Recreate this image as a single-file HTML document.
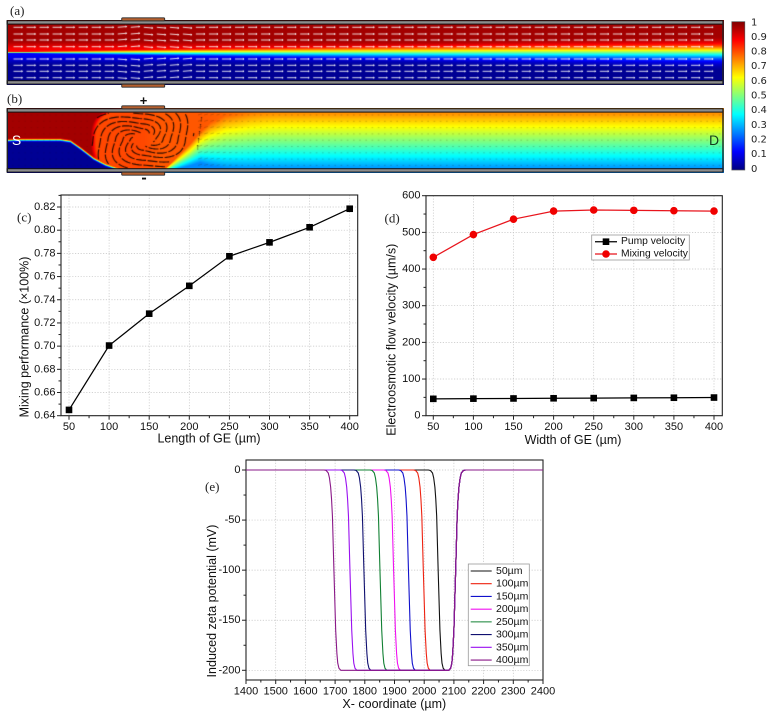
<!DOCTYPE html>
<html lang="en">
<head>
<meta charset="utf-8">
<title>Electrokinetic mixing figure</title>
<style>
html,body{margin:0;padding:0;background:#fff;}
#figure{position:relative;width:773px;height:715px;overflow:hidden;background:#fff;filter:blur(0.25px);font-family:"Liberation Sans",Arial,sans-serif;}
canvas{position:absolute;display:block;}
svg{position:absolute;left:0;top:0;}
text{font-family:"Liberation Sans",Arial,sans-serif;fill:#111;}
.panel-label{font-family:"Liberation Serif","Times New Roman",serif;font-size:13px;fill:#222;}
.cb{font-family:"DejaVu Sans",sans-serif;font-size:10px;fill:#222;}
</style>
</head>
<body>
<div id="figure">
<canvas id="fieldA" width="717" height="65" style="left:7px;top:20px"></canvas>
<canvas id="fieldB" width="717" height="65" style="left:7px;top:108px"></canvas>
<svg id="chartSvg" width="773" height="715" viewBox="0 0 773 715" xmlns="http://www.w3.org/2000/svg">
<defs>
<linearGradient id="jetGrad" x1="0" y1="1" x2="0" y2="0">
<stop offset="0" stop-color="#000080"/><stop offset="0.125" stop-color="#0000ff"/><stop offset="0.375" stop-color="#00ffff"/><stop offset="0.625" stop-color="#ffff00"/><stop offset="0.875" stop-color="#ff0000"/><stop offset="1" stop-color="#800000"/>
</linearGradient>
</defs>
<g>
<rect x="7" y="20.7" width="716" height="3.4" fill="#8c8c8c" stroke="#111" stroke-width="1"/>
<rect x="7" y="80.7" width="716" height="3.4" fill="#8c8c8c" stroke="#111" stroke-width="1"/>
<line x1="7.3" y1="21" x2="7.3" y2="84" stroke="#222" stroke-width="1.4"/>
<line x1="723" y1="21" x2="723" y2="84" stroke="#222" stroke-width="1.4"/>
<rect x="121.7" y="17.8" width="43" height="3" rx="1" fill="#b5602f" stroke="#2a2a2a" stroke-width="0.9"/>
<rect x="121.7" y="84.2" width="43" height="3" rx="1" fill="#b5602f" stroke="#2a2a2a" stroke-width="0.9"/>
</g>
<g>
<rect x="7" y="108.7" width="716" height="3.4" fill="#8c8c8c" stroke="#111" stroke-width="1"/>
<rect x="7" y="168.7" width="716" height="3.4" fill="#8c8c8c" stroke="#111" stroke-width="1"/>
<line x1="7.3" y1="109" x2="7.3" y2="172" stroke="#222" stroke-width="1.4"/>
<line x1="723" y1="109" x2="723" y2="172" stroke="#222" stroke-width="1.4"/>
<rect x="121.7" y="105.8" width="43" height="3" rx="1" fill="#b5602f" stroke="#2a2a2a" stroke-width="0.9"/>
<rect x="121.7" y="172.2" width="43" height="3" rx="1" fill="#b5602f" stroke="#2a2a2a" stroke-width="0.9"/>
<text x="143.5" y="100.5" text-anchor="middle" dominant-baseline="central" font-size="13" font-weight="bold">+</text>
<text x="144" y="178" text-anchor="middle" dominant-baseline="central" font-size="16" font-weight="bold">-</text>
<text x="16.5" y="140" text-anchor="middle" dominant-baseline="central" font-size="14" style="fill:#fff">S</text>
<text x="714" y="140" text-anchor="middle" dominant-baseline="central" font-size="14" style="fill:#143c1e">D</text>
</g>
<text class="panel-label" x="10" y="15">(a)</text>
<text class="panel-label" x="7" y="103">(b)</text>
<text class="panel-label" x="17" y="221.5">(c)</text>
<text class="panel-label" x="384.5" y="222.5">(d)</text>
<text class="panel-label" x="205" y="491">(e)</text>
<g>
<rect x="731.8" y="21.7" width="13" height="148.3" fill="url(#jetGrad)" stroke="#555" stroke-width="0.7"/>
<text class="cb" x="751" y="23" dominant-baseline="central">1</text>
<text class="cb" x="751" y="37.3" dominant-baseline="central">0.9</text>
<text class="cb" x="751" y="52" dominant-baseline="central">0.8</text>
<text class="cb" x="751" y="66.7" dominant-baseline="central">0.7</text>
<text class="cb" x="751" y="81.3" dominant-baseline="central">0.6</text>
<text class="cb" x="751" y="96" dominant-baseline="central">0.5</text>
<text class="cb" x="751" y="110.7" dominant-baseline="central">0.4</text>
<text class="cb" x="751" y="125.3" dominant-baseline="central">0.3</text>
<text class="cb" x="751" y="140" dominant-baseline="central">0.2</text>
<text class="cb" x="751" y="154.7" dominant-baseline="central">0.1</text>
<text class="cb" x="751" y="169.3" dominant-baseline="central">0</text>
</g>
</svg>
</div>
<script>
// ---- Chart (c) data ----
const lengthCategories = [50, 100, 150, 200, 250, 300, 350, 400];
const mixingPerformance = [0.645, 0.7005, 0.728, 0.752, 0.7775, 0.7895, 0.8025, 0.8185];
const cXTickLabels = ['50', '100', '150', '200', '250', '300', '350', '400'];
const cYTickLabels = ['0.64', '0.66', '0.68', '0.70', '0.72', '0.74', '0.76', '0.78', '0.80', '0.82'];

// ---- Chart (d) data ----
const widthCategories = [50, 100, 150, 200, 250, 300, 350, 400];
const pumpVelocity = [46, 46.5, 47, 47.5, 48, 48.5, 49, 49.5];
const mixingVelocity = [432, 494, 536, 558, 561, 560, 559, 558];
const dXTickLabels = ['50', '100', '150', '200', '250', '300', '350', '400'];
const dYTickLabels = ['0', '100', '200', '300', '400', '500', '600'];

// ---- Chart (e) data ----
const zetaSeriesNames = ['50µm', '100µm', '150µm', '200µm', '250µm', '300µm', '350µm', '400µm'];
const zetaFallValues = [0, -0.5, -3, -8, -17, -29, -46, -100, -160, -183, -193, -198, -200];
const zetaFall50 = [2014, 2021, 2028, 2032, 2036, 2039, 2042, 2047, 2053, 2057, 2060, 2064, 2070];
const zetaFall100 = [1964, 1971, 1978, 1982, 1986, 1989, 1992, 1997, 2003, 2007, 2010, 2014, 2020];
const zetaFall150 = [1914, 1921, 1928, 1932, 1936, 1939, 1942, 1947, 1953, 1957, 1960, 1964, 1970];
const zetaFall200 = [1864, 1871, 1878, 1882, 1886, 1889, 1892, 1897, 1903, 1907, 1910, 1914, 1920];
const zetaFall250 = [1818, 1825, 1832, 1836, 1840, 1843, 1846, 1851, 1857, 1861, 1864, 1868, 1874];
const zetaFall300 = [1764, 1771, 1778, 1782, 1786, 1789, 1792, 1797, 1803, 1807, 1810, 1814, 1820];
const zetaFall350 = [1717, 1724, 1731, 1735, 1739, 1742, 1745, 1750, 1756, 1760, 1763, 1767, 1773];
const zetaFall400 = [1663, 1670, 1677, 1681, 1685, 1688, 1691, 1696, 1702, 1706, 1709, 1713, 1719];
const zetaRiseX = [2083, 2089, 2093, 2096, 2100, 2106, 2111, 2114, 2117, 2121, 2125, 2132, 2139];
const zetaRiseValues = [-200, -198, -193, -183, -160, -100, -46, -29, -17, -8, -3, -0.5, 0];
const eXTickLabels = ['1400', '1500', '1600', '1700', '1800', '1900', '2000', '2100', '2200', '2300', '2400'];
const eYTickLabels = ['0', '-50', '-100', '-150', '-200'];

const NS = 'http://www.w3.org/2000/svg';
const svg = document.getElementById('chartSvg');

function make(tag, attrs, parent) {
  const n = document.createElementNS(NS, tag);
  for (const k in attrs) n.setAttribute(k, attrs[k]);
  (parent || svg).appendChild(n);
  return n;
}
function linearScale(d0, d1, r0, r1) {
  return function (v) { return r0 + (v - d0) * (r1 - r0) / (d1 - d0); };
}

function drawAxes(g, box, sx, sy, xTicks, yTicks, xMinorStep, yMinorStep, yRange, xRange) {
  const xs = xTicks.map(Number), ys = yTicks.map(Number);
  xs.forEach(function (v) {
    const grid = make('line', { x1: sx(v), x2: sx(v), y1: box.top, y2: box.bottom, stroke: '#c4c4c4', 'stroke-width': 0.7, 'stroke-dasharray': '1.2 1.6' }, g);
    
    
  });
  ys.forEach(function (v) {
    const grid = make('line', { x1: box.left, x2: box.right, y1: sy(v), y2: sy(v), stroke: '#c4c4c4', 'stroke-width': 0.7, 'stroke-dasharray': '1.2 1.6' }, g);
    
    
  });
  const frame = make('rect', { x: box.left, y: box.top, width: box.right - box.left, height: box.bottom - box.top, fill: 'none', stroke: '#222', 'stroke-width': 1.1 }, g);
  
  
  for (let v = xRange[0]; v <= xRange[1] + 1e-9; v += xMinorStep) {
    const px = sx(v);
    if (px < box.left || px > box.right) continue;
    const isMajor = xs.some(function (t) { return Math.abs(t - v) < 1e-6; });
    const tick = make('line', { x1: px, x2: px, y1: box.bottom, y2: box.bottom + (isMajor ? 4 : 2.5), stroke: '#222', 'stroke-width': 1 }, g);
    
    
  }
  for (let v = yRange[0]; v <= yRange[1] + 1e-9; v += yMinorStep) {
    const py = sy(v);
    if (py < box.top - 0.5 || py > box.bottom + 0.5) continue;
    const isMajor = ys.some(function (t) { return Math.abs(t - v) < 1e-6; });
    const tick = make('line', { x1: box.left, x2: box.left - (isMajor ? 4 : 2.5), y1: py, y2: py, stroke: '#222', 'stroke-width': 1 }, g);
    
    
  }
  xTicks.forEach(function (t) {
    const label = make('text', { x: sx(Number(t)), y: box.bottom + 11.5, 'text-anchor': 'middle', 'dominant-baseline': 'central', 'font-size': 11 }, g);
    label.textContent = t;
    
    
  });
  yTicks.forEach(function (t) {
    const label = make('text', { x: box.left - 5.5, y: sy(Number(t)), 'text-anchor': 'end', 'dominant-baseline': 'central', 'font-size': 11 }, g);
    label.textContent = t;
    
    
  });
}
function drawTitles(g, xTitle, xx, xy, yTitle, yx, yy) {
  const xt = make('text', { x: xx, y: xy, 'text-anchor': 'middle', 'dominant-baseline': 'central', 'font-size': 12.5 }, g);
  xt.textContent = xTitle;
  
  
  const yt = make('text', { x: yx, y: yy, 'text-anchor': 'middle', 'dominant-baseline': 'central', 'font-size': 12.5, transform: 'rotate(-90 ' + yx + ' ' + yy + ')' }, g);
  yt.textContent = yTitle;
  
  
}
function pointsAttr(xv, yv, sx, sy) {
  return xv.map(function (v, i) { return sx(v).toFixed(2) + ',' + sy(yv[i]).toFixed(2); }).join(' ');
}

// ---------- Chart (c) ----------
(function () {
  const g = make('g', {});
  
  
  const box = { left: 61, right: 357.7, top: 195, bottom: 415.7 };
  const sx = linearScale(50, 400, 69, 349.7);
  const sy = linearScale(0.64, 0.82, 415.7, 207);
  drawAxes(g, box, sx, sy, cXTickLabels, cYTickLabels, 25, 0.01, [0.64, 0.83], [50, 400]);
  drawTitles(g, 'Length of GE (µm)', 209, 438.7, 'Mixing performance (×100%)', 24.5, 337);
  const line = make('polyline', { points: pointsAttr(lengthCategories, mixingPerformance, sx, sy), fill: 'none', stroke: '#000', 'stroke-width': 1.25 }, g);
  
  
  lengthCategories.forEach(function (c, i) {
    const m = make('rect', { x: sx(c) - 3.3, y: sy(mixingPerformance[i]) - 3.3, width: 6.6, height: 6.6, fill: '#000' }, g);
    
    
  });
})();

// ---------- Chart (d) ----------
(function () {
  const g = make('g', {});
  
  
  const box = { left: 426, right: 722.3, top: 195.7, bottom: 415.7 };
  const sx = linearScale(50, 400, 433.3, 714);
  const sy = linearScale(0, 600, 415.7, 195.7);
  drawAxes(g, box, sx, sy, dXTickLabels, dYTickLabels, 25, 50, [0, 600], [50, 400]);
  drawTitles(g, 'Width of GE (µm)', 573, 440, 'Electroosmotic flow velocity (µm/s)', 391.7, 339.7);
  const pump = make('polyline', { points: pointsAttr(widthCategories, pumpVelocity, sx, sy), fill: 'none', stroke: '#000', 'stroke-width': 1.25 }, g);
  
  
  const mix = make('polyline', { points: pointsAttr(widthCategories, mixingVelocity, sx, sy), fill: 'none', stroke: '#e8141c', 'stroke-width': 1.25 }, g);
  
  
  widthCategories.forEach(function (c, i) {
    const m = make('rect', { x: sx(c) - 3.3, y: sy(pumpVelocity[i]) - 3.3, width: 6.6, height: 6.6, fill: '#000' }, g);
    
    
    const k = make('circle', { cx: sx(c), cy: sy(mixingVelocity[i]), r: 3.8, fill: '#f00000' }, g);
    
    
  });
  const legend = make('g', {}, g);
  
  
  const lb = make('rect', { x: 591.7, y: 235, width: 97.6, height: 25, fill: '#fff', stroke: '#999', 'stroke-width': 0.8 }, legend);
  
  
  const l1 = make('line', { x1: 595, x2: 617, y1: 241.7, y2: 241.7, stroke: '#000', 'stroke-width': 1.25 }, legend);
  
  
  const m1 = make('rect', { x: 602.7, y: 238.4, width: 6.6, height: 6.6, fill: '#000' }, legend);
  
  
  const t1 = make('text', { x: 621, y: 241.7, 'dominant-baseline': 'central', 'font-size': 10.3 }, legend);
  t1.textContent = 'Pump velocity';
  
  
  const l2 = make('line', { x1: 595, x2: 617, y1: 254, y2: 254, stroke: '#e8141c', 'stroke-width': 1.25 }, legend);
  
  
  const m2 = make('circle', { cx: 606, cy: 254, r: 3.8, fill: '#f00000' }, legend);
  
  
  const t2 = make('text', { x: 621, y: 254, 'dominant-baseline': 'central', 'font-size': 10.3 }, legend);
  t2.textContent = 'Mixing velocity';
  
  
})();

// ---------- Chart (e) ----------
(function () {
  const g = make('g', {});
  
  
  const box = { left: 246, right: 543, top: 460, bottom: 680 };
  const sx = linearScale(1400, 2400, 246, 543);
  const sy = linearScale(0, -200, 470, 670.3);
  drawAxes(g, box, sx, sy, eXTickLabels, eYTickLabels, 50, 25, [-200, 0], [1400, 2400]);
  drawTitles(g, 'X- coordinate (µm)', 394.3, 704, 'Induced zeta potential (mV)', 212, 601);
  const colors = ['#111111', '#ee2211', '#1111cc', '#f010f0', '#118033', '#101070', '#9a10f0', '#8a1888'];
  const falls = [zetaFall50, zetaFall100, zetaFall150, zetaFall200, zetaFall250, zetaFall300, zetaFall350, zetaFall400];
  falls.forEach(function (fall, i) {
    const xv = [1400].concat(fall, zetaRiseX, [2400]);
    const yv = [0].concat(zetaFallValues, zetaRiseValues, [0]);
    const curve = make('polyline', { points: pointsAttr(xv, yv, sx, sy), fill: 'none', stroke: colors[i], 'stroke-width': 1.1, 'stroke-linejoin': 'round' }, g);
    
    
  });
  const legend = make('g', {}, g);
  
  
  const lb = make('rect', { x: 468.3, y: 564, width: 61, height: 101.7, fill: '#fff', stroke: '#999', 'stroke-width': 0.8 }, legend);
  
  
  zetaSeriesNames.forEach(function (name, i) {
    const y = 571 + i * 12.72;
    const sw = make('line', { x1: 470.7, x2: 491.7, y1: y, y2: y, stroke: colors[i], 'stroke-width': 1.1 }, legend);
    
    
    const t = make('text', { x: 496, y: y, 'dominant-baseline': 'central', 'font-size': 10.5 }, legend);
    t.textContent = name;
    
    
  });
})();

// ---------- Channel concentration fields ----------
function clamp01(v) { return v < 0 ? 0 : v > 1 ? 1 : v; }
function jet(v) {
  return [
    255 * clamp01(Math.min(4 * v - 1.5, -4 * v + 4.5)),
    255 * clamp01(Math.min(4 * v - 0.5, -4 * v + 3.5)),
    255 * clamp01(Math.min(4 * v + 0.5, -4 * v + 2.5))
  ];
}
function interp(xs, ys, x) {
  if (x <= xs[0]) return ys[0];
  for (let i = 1; i < xs.length; i++) {
    if (x <= xs[i]) {
      const t = (x - xs[i - 1]) / (xs[i] - xs[i - 1]);
      return ys[i - 1] + t * (ys[i] - ys[i - 1]);
    }
  }
  return ys[ys.length - 1];
}
function logistic(z) { return 1 / (1 + Math.exp(-1.7 * z)); }
function smooth(a, b, x) { const t = clamp01((x - a) / (b - a)); return t * t * (3 - 2 * t); }
function paintField(canvas, ox, oy, fn) {
  const ctx = canvas.getContext('2d');
  const img = ctx.createImageData(canvas.width, canvas.height);
  for (let j = 0; j < canvas.height; j++) {
    for (let i = 0; i < canvas.width; i++) {
      const c = jet(Math.min(0.965, Math.max(0.02, fn(i + ox, j + oy))));
      const p = (j * canvas.width + i) * 4;
      img.data[p] = c[0]; img.data[p + 1] = c[1]; img.data[p + 2] = c[2]; img.data[p + 3] = 255;
    }
  }
  ctx.putImageData(img, 0, 0);
  return ctx;
}
function arrow(ctx, x, y, ang, len, head) {
  const ex = x + Math.cos(ang) * len, ey = y + Math.sin(ang) * len;
  ctx.beginPath();
  ctx.moveTo(x, y); ctx.lineTo(ex, ey);
  ctx.moveTo(ex - Math.cos(ang - 0.5) * head, ey - Math.sin(ang - 0.5) * head);
  ctx.lineTo(ex, ey);
  ctx.lineTo(ex - Math.cos(ang + 0.5) * head, ey - Math.sin(ang + 0.5) * head);
  ctx.stroke();
}

// Panel (a)
(function () {
  const sigmaX = [7, 30, 100, 165, 390, 723];
  const sigmaV = [0.6, 0.9, 2, 3, 5.5, 8];
  const ctx = paintField(document.getElementById('fieldA'), 7, 20, function (x, y) {
    const base = logistic((52 - y) / interp(sigmaX, sigmaV, x));
    const upper = 0.975 - 0.1 * smooth(38, 50, y);
    const lower = 0.02 + 0.1 * (1 - smooth(54, 66, y));
    return Math.max(lower, Math.min(upper, base));
  });
  ctx.translate(-7, -20);
  ctx.strokeStyle = '#ffffff';
  ctx.lineWidth = 0.85;
  const rows = [27.3, 34, 40, 46.7, 59, 65.3, 71.3, 77.7];
  rows.forEach(function (ry, r) {
    for (let x = 13.5; x < 716; x += 13.03) {
      let ang = 0;
      if (x > 110 && x < 185) {
        const s = x < 143 ? -1 : 1;
        ang = s * (r < 4 ? 0.08 : -0.08);
      }
      arrow(ctx, x, ry, ang, 9, 1.3);
    }
  });
})();

// Panel (b)
(function () {
  const ifX = [7, 20, 60, 70, 80, 93, 105, 117, 125, 800];
  const ifY = [140, 139.5, 139.5, 141, 148, 158, 164, 168, 171, 175];
  const lowX = [120, 165, 175, 190, 200, 210, 225, 250, 723];
  const lowY = [172, 168, 158, 143, 131, 122, 115, 113, 113];
  const highY = [174, 171, 169, 165, 162, 165, 168, 169, 169];
  const cx = 143, cy = 139.5, rx = 50, ry = 33;
  const ctx = paintField(document.getElementById('fieldB'), 7, 108, function (x, y) {
    const yi = interp(ifX, ifY, x);
    const iface = logistic((yi - y) / 1.1);
    let left = iface;
    const d = Math.pow(Math.pow(Math.abs(x - cx) / rx, 3) + Math.pow(Math.abs(y - cy) / ry, 3), 1 / 3);
    const m = (1 - smooth(0.93, 1.1, d)) * clamp01(iface * 1.05);
    left = left + (0.805 - left) * m;
    const lo = interp(lowX, lowY, x), hi = interp(lowX, highY, x);
    const t = clamp01((y - lo) / (hi - lo));
    const vTop = 0.79 - 0.055 * smooth(195, 280, x);
    const right = vTop - t * (vTop - 0.26);
    const w = smooth(140, 160, x);
    return left * (1 - w) + right * w;
  });
  ctx.translate(-7, -108);
  ctx.strokeStyle = 'rgba(40,30,10,0.3)';
  ctx.lineWidth = 0.7;
  for (let y = 115; y < 168; y += 6.3) {
    for (let x = 198; x < 720; x += 6.2) {
      if (x < 240) {
        ctx.beginPath(); ctx.moveTo(x, y); ctx.lineTo(x + 2 + (240 - x) * 0.05, y - (240 - x) * 0.03); ctx.stroke();
      } else {
        ctx.beginPath(); ctx.moveTo(x, y); ctx.lineTo(x + 1.6, y); ctx.stroke();
      }
    }
  }
  ctx.strokeStyle = 'rgba(30,10,0,0.14)';
  for (let y = 115; y < 168; y += 6.3) {
    for (let x = 12; x < 90; x += 6.2) {
      ctx.beginPath(); ctx.moveTo(x, y); ctx.lineTo(x + 1.6, y); ctx.stroke();
    }
  }
  // spiral arms of the recirculating vortex
  ctx.strokeStyle = 'rgba(20,6,0,0.9)';
  ctx.lineWidth = 1.15;
  ctx.setLineDash([10, 1.6]);
  const arms = 10;
  for (let k = 0; k < arms; k++) {
    const th0 = k * 2 * Math.PI / arms;
    ctx.beginPath();
    let pen = false;
    for (let r = 1.02; r > 0.2; r -= 0.012) {
      const th = th0 + 4.2 * (1 - r);
      const c = Math.cos(th), s = Math.sin(th);
      const px = cx + rx * r * Math.sign(c) * Math.pow(Math.abs(c), 2 / 3);
      const py = cy + ry * r * Math.sign(s) * Math.pow(Math.abs(s), 2 / 3);
      const outside = py > interp(ifX, ifY, px) - 1 || (py > interp(lowX, lowY, px) - 1 && px > 160) || py < 113 || py > 168;
      if (outside) { pen = false; continue; }
      if (pen) ctx.lineTo(px, py); else { ctx.moveTo(px, py); pen = true; }
    }
    ctx.stroke();
  }
  ctx.setLineDash([]);
  ctx.strokeStyle = 'rgba(10,5,0,0.4)';
  ctx.lineWidth = 0.9;
  for (let i = 0; i < 5; i++) {
    const y = 118 + i * 7;
    const x = 201 - i * 0.8;
    arrow(ctx, x, y + 4, -1.45 - i * 0.04, 5, 1.2);
  }
})();
</script>
</body>
</html>
